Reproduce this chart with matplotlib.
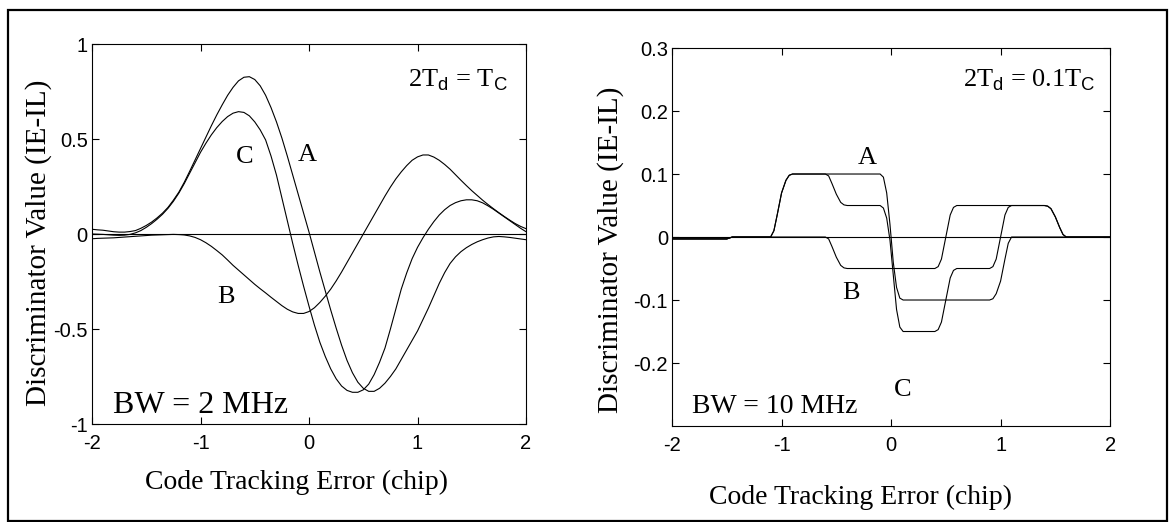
import matplotlib
matplotlib.use('Agg')
import matplotlib.pyplot as plt
from matplotlib.patches import Rectangle

plt.rcParams['font.family'] = ['Liberation Serif', 'DejaVu Serif']
plt.rcParams['mathtext.fontset'] = 'custom'
plt.rcParams['mathtext.rm'] = 'Liberation Serif'
plt.rcParams['mathtext.sf'] = 'Liberation Sans'
plt.rcParams['axes.unicode_minus'] = False

# ---- left panel: BW = 2 MHz, 2Td = Tc (samples every 0.05 chip) ----
err_2mhz = [-2.0, -1.95, -1.9, -1.85, -1.8, -1.75, -1.7, -1.65, -1.6, -1.55,
            -1.5, -1.45, -1.4, -1.35, -1.3, -1.25, -1.2, -1.15, -1.1, -1.05,
            -1.0, -0.95, -0.9, -0.85, -0.8, -0.75, -0.7, -0.65, -0.6, -0.55,
            -0.5, -0.45, -0.4, -0.35, -0.3, -0.25, -0.2, -0.15, -0.1, -0.05,
            0.0, 0.05, 0.1, 0.15, 0.2, 0.25, 0.3, 0.35, 0.4, 0.45,
            0.5, 0.55, 0.6, 0.65, 0.7, 0.75, 0.8, 0.85, 0.9, 0.95,
            1.0, 1.05, 1.1, 1.15, 1.2, 1.25, 1.3, 1.35, 1.4, 1.45,
            1.5, 1.55, 1.6, 1.65, 1.7, 1.75, 1.8, 1.85, 1.9, 1.95, 2.0]
curve_a_2mhz = [0.025, 0.022, 0.02, 0.016, 0.012, 0.01, 0.01, 0.013, 0.018, 0.03,
                0.045, 0.063, 0.085, 0.11, 0.14, 0.178, 0.22, 0.272, 0.33, 0.39,
                0.45, 0.51, 0.57, 0.627, 0.68, 0.73, 0.772, 0.806, 0.825, 0.828,
                0.813, 0.78, 0.73, 0.665, 0.59, 0.505, 0.41, 0.31, 0.21, 0.11,
                0.01, -0.095, -0.20, -0.30, -0.40, -0.495, -0.585, -0.665, -0.73, -0.78,
                -0.812, -0.828, -0.828, -0.812, -0.785, -0.75, -0.71, -0.66, -0.61, -0.56,
                -0.51, -0.45, -0.39, -0.325, -0.26, -0.203, -0.155, -0.12, -0.093, -0.072,
                -0.055, -0.041, -0.03, -0.021, -0.015, -0.013, -0.015, -0.018, -0.022, -0.026, -0.03]
curve_b_2mhz = [-0.025, -0.023, -0.022, -0.021, -0.02, -0.018, -0.016, -0.014, -0.012, -0.01,
                -0.008, -0.006, -0.005, -0.004, -0.003, -0.002, -0.003, -0.005, -0.01, -0.018,
                -0.03, -0.046, -0.065, -0.087, -0.11, -0.137, -0.165, -0.19, -0.215, -0.24,
                -0.265, -0.288, -0.31, -0.333, -0.355, -0.377, -0.396, -0.41, -0.418, -0.418,
                -0.408, -0.388, -0.36, -0.327, -0.29, -0.247, -0.2, -0.15, -0.1, -0.05,
                0.0, 0.05, 0.1, 0.15, 0.2, 0.247, 0.29, 0.327, 0.36, 0.388,
                0.406, 0.416, 0.416, 0.405, 0.388, 0.366, 0.341, 0.312, 0.283, 0.255,
                0.228, 0.203, 0.178, 0.155, 0.133, 0.112, 0.092, 0.073, 0.055, 0.04, 0.028]
curve_c_2mhz = [0.0, -0.001, -0.002, -0.004, -0.006, -0.007, -0.006, -0.002, 0.006, 0.018,
                0.035, 0.055, 0.078, 0.104, 0.135, 0.172, 0.215, 0.265, 0.32, 0.375,
                0.43, 0.478, 0.522, 0.56, 0.592, 0.618, 0.636, 0.644, 0.64, 0.622,
                0.59, 0.548, 0.495, 0.41, 0.31, 0.19, 0.07, -0.05, -0.165, -0.275,
                -0.38, -0.48, -0.57, -0.645, -0.71, -0.762, -0.80, -0.823, -0.833, -0.833,
                -0.82, -0.79, -0.74, -0.675, -0.60, -0.50, -0.395, -0.29, -0.205, -0.13,
                -0.07, -0.02, 0.025, 0.065, 0.10, 0.128, 0.15, 0.165, 0.175, 0.18,
                0.18, 0.175, 0.164, 0.148, 0.13, 0.11, 0.09, 0.07, 0.05, 0.03, 0.012]

# ---- right panel: BW = 10 MHz, 2Td = 0.1Tc ----
err_a_10 = [-2.0, -1.5, -1.45, -1.1, -1.07, -1.04, -1.0, -0.96, -0.93, -0.9,
            -0.1, -0.07, -0.04, -0.01, 0.02, 0.05, 0.08, 0.11,
            0.9, 0.93, 0.96, 1.0, 1.04, 1.07, 1.1, 2.0]
curve_a_10 = [-0.003, -0.003, 0.0, 0.0, 0.01, 0.035, 0.07, 0.09, 0.098, 0.1,
              0.1, 0.095, 0.07, 0.02, -0.04, -0.08, -0.097, -0.1,
              -0.1, -0.098, -0.09, -0.07, -0.035, -0.01, 0.0, 0.0]
err_b_10 = [-2.0, -1.5, -1.45, -0.6, -0.57, -0.54, -0.5, -0.46, -0.43, -0.4,
            0.4, 0.43, 0.46, 0.5, 0.54, 0.57, 0.6,
            1.4, 1.43, 1.46, 1.5, 1.54, 1.57, 1.6, 2.0]
curve_b_10 = [-0.003, -0.003, 0.0, 0.0, -0.003, -0.015, -0.032, -0.045, -0.049, -0.05,
              -0.05, -0.047, -0.035, 0.0, 0.035, 0.047, 0.05,
              0.05, 0.049, 0.045, 0.032, 0.015, 0.004, 0.0, 0.0]
err_c_10 = [-2.0, -1.5, -1.45, -1.1, -1.07, -1.04, -1.0, -0.96, -0.93, -0.9,
            -0.6, -0.57, -0.54, -0.5, -0.46, -0.43, -0.4,
            -0.1, -0.07, -0.04, -0.01, 0.02, 0.05, 0.08, 0.11,
            0.4, 0.43, 0.46, 0.5, 0.54, 0.57, 0.6,
            0.9, 0.93, 0.96, 1.0, 1.04, 1.07, 1.1,
            1.4, 1.43, 1.46, 1.5, 1.54, 1.57, 1.6, 2.0]
curve_c_10 = [-0.003, -0.003, 0.0, 0.0, 0.01, 0.035, 0.07, 0.09, 0.098, 0.1,
              0.1, 0.097, 0.085, 0.068, 0.055, 0.051, 0.05,
              0.05, 0.046, 0.03, -0.005, -0.06, -0.115, -0.143, -0.15,
              -0.15, -0.147, -0.135, -0.1, -0.065, -0.053, -0.05,
              -0.05, -0.047, -0.035, 0.0, 0.035, 0.047, 0.05,
              0.05, 0.049, 0.045, 0.032, 0.015, 0.004, 0.0, 0.0]

x_ticks = [-2, -1, 0, 1, 2]
x_ticklabels = ['-2', '-1', '0', '1', '2']
y_ticks_2mhz = [-1, -0.5, 0, 0.5, 1]
y_ticklabels_2mhz = ['-1', '-0.5', '0', '0.5', '1']
y_ticks_10 = [-0.2, -0.1, 0, 0.1, 0.2, 0.3]
y_ticklabels_10 = ['-0.2', '-0.1', '0', '0.1', '0.2', '0.3']

fig = plt.figure(figsize=(11.69, 5.22), dpi=100)
fig.patches.append(Rectangle((0.0068, 0.002), 0.9915, 0.979, transform=fig.transFigure,
                             fill=False, edgecolor='black', linewidth=1.6))

ax1 = fig.add_axes([0.0787, 0.1877, 0.3713, 0.728])
ax2 = fig.add_axes([0.5749, 0.1839, 0.3747, 0.7241])

lw = 0.8
ax1.axhline(0, color='black', linewidth=lw)
ax1.plot(err_2mhz, curve_a_2mhz, color='black', linewidth=lw)
ax1.plot(err_2mhz, curve_b_2mhz, color='black', linewidth=lw)
ax1.plot(err_2mhz, curve_c_2mhz, color='black', linewidth=lw)
ax1.set_xlim(-2, 2)
ax1.set_ylim(-1, 1)
ax1.set_yticks(y_ticks_2mhz)
ax1.set_yticklabels(y_ticklabels_2mhz)

ax2.axhline(0, color='black', linewidth=lw)
ax2.plot(err_a_10, curve_a_10, color='black', linewidth=lw)
ax2.plot(err_b_10, curve_b_10, color='black', linewidth=lw)
ax2.plot(err_c_10, curve_c_10, color='black', linewidth=lw)
ax2.set_xlim(-2, 2)
ax2.set_ylim(-0.3, 0.3)
ax2.set_yticks(y_ticks_10)
ax2.set_yticklabels(y_ticklabels_10)

for ax in (ax1, ax2):
    ax.set_xticks(x_ticks)
    ax.set_xticklabels(x_ticklabels)
    ax.tick_params(direction='in', top=True, right=True, length=5, width=0.8,
                   labelsize=14.5)
    ax.tick_params(axis='x', pad=7)
    ax.tick_params(axis='y', pad=3)
    for lab in ax.get_xticklabels() + ax.get_yticklabels():
        lab.set_fontfamily('Liberation Sans')
    for sp in ax.spines.values():
        sp.set_linewidth(0.8)
    ax.set_xlabel('Code Tracking Error (chip)', fontsize=20, va='center')
    ax.set_ylabel('Discriminator Value (IE-IL)', fontsize=21, va='center')

ax1.xaxis.set_label_coords(0.472, -0.153)
ax1.yaxis.set_label_coords(-0.124, 0.476)
ax2.xaxis.set_label_coords(0.43, -0.188)
ax2.yaxis.set_label_coords(-0.141, 0.466)

# annotations, left
ax1.text(0.958, 0.887, r'2T$_\mathsf{d}$ = T$_\mathsf{C}$', transform=ax1.transAxes,
         ha='right', va='baseline', fontsize=19)
ax1.text(0.048, 0.029, 'BW = 2 MHz', transform=ax1.transAxes,
         ha='left', va='baseline', fontsize=23)
ax1.text(-0.59, 0.405, 'C', ha='center', va='center', fontsize=19)
ax1.text(-0.02, 0.416, 'A', ha='center', va='center', fontsize=19)
ax1.text(-0.77, -0.33, 'B', ha='center', va='center', fontsize=19)

# annotations, right
ax2.text(0.966, 0.897, r'2T$_\mathsf{d}$ = 0.1T$_\mathsf{C}$', transform=ax2.transAxes,
         ha='right', va='baseline', fontsize=19)
ax2.text(0.046, 0.034, 'BW = 10 MHz', transform=ax2.transAxes,
         ha='left', va='baseline', fontsize=20)
ax2.text(-0.22, 0.125, 'A', ha='center', va='center', fontsize=19)
ax2.text(-0.37, -0.089, 'B', ha='center', va='center', fontsize=19)
ax2.text(0.11, -0.243, 'C', ha='center', va='center', fontsize=19)

fig.savefig('out.png', dpi=100)
